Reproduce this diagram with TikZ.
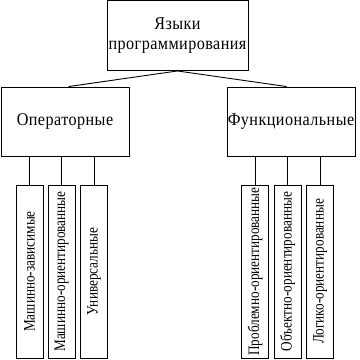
\documentclass[tikz,border=0pt]{standalone}
\usepackage{fontspec}
\setmainfont{Liberation Serif}
\newfontfamily\bigfont[FakeStretch=0.9,LetterSpace=2.5]{Liberation Serif}
\newfontfamily\narrowfont[FakeStretch=0.83]{Liberation Serif}
\usetikzlibrary{calc}
\begin{document}
\begin{tikzpicture}[x=1bp,y=-1bp,line width=0.9bp,
  mainbox/.style={draw,rectangle,inner sep=0pt,align=center,font=\bigfont\fontsize{18}{20}\selectfont},
  leaf/.style={draw,rectangle,inner sep=0pt,minimum width=27bp,minimum height=173bp},
  vtext/.style={rotate=90,font=\narrowfont\fontsize{16}{18}\selectfont,inner sep=0pt}]
\useasboundingbox (0,0) rectangle (360,360);
\node[mainbox,minimum width=141bp,minimum height=70bp] (top) at (177.5,35.5) {Языки\\программирования};
\node[mainbox,minimum width=128bp,minimum height=69bp] (lb) at (65,121.5) {Операторные};
\node[mainbox,minimum width=128bp,minimum height=69bp] (rb) at (291,121.5) {Функциональные};
\node[leaf] (s1) at (29.5,271.5) {};
\node[leaf] (s2) at (61.5,271.5) {};
\node[leaf] (s3) at (94,271.5) {};
\node[leaf] (s4) at (255,271.5) {};
\node[leaf] (s5) at (287.5,271.5) {};
\node[leaf] (s6) at (320,271.5) {};
\node[vtext] (t1) at (s1) {Машинно-зависимые};
\node[vtext] (t2) at (s2) {Машинно-ориентированные};
\node[vtext] (t3) at (s3) {Универсальные};
\node[vtext] (t4) at (s4) {Проблемно-ориентированные};
\node[vtext] (t5) at (s5) {Объектно-ориентированные};
\node[vtext] (t6) at (s6) {Логико-ориентированные};
\coordinate (la) at ($(lb.north west)+(68,0)$);
\coordinate (ra) at ($(rb.north west)+(60,0)$);
\draw (top.south) -- (la);
\draw (top.south) -- (ra);
\foreach \s/\p in {s1/lb,s2/lb,s3/lb,s4/rb,s5/rb,s6/rb}
  \draw (\s.north) -- (\s.north |- \p.south);
\end{tikzpicture}
\end{document}
